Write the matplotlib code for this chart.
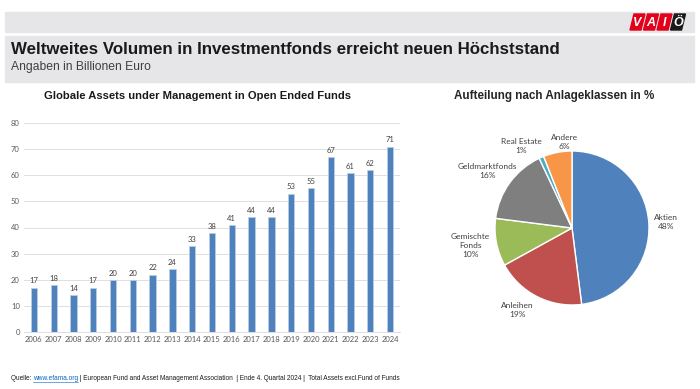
import numpy as np
import matplotlib
matplotlib.use("Agg")
import matplotlib.pyplot as plt
from matplotlib.patches import Rectangle, Polygon

# data
years = ["2006", "2007", "2008", "2009", "2010", "2011", "2012", "2013", "2014", "2015",
         "2016", "2017", "2018", "2019", "2020", "2021", "2022", "2023", "2024"]
volumes = [17, 18, 14, 17, 20, 20, 22, 24, 33, 38, 41, 44, 44, 53, 55, 67, 61, 62, 71]

classes = ["Aktien", "Anleihen", "Gemischte\nFonds", "Geldmarktfonds", "Real Estate", "Andere"]
shares = [48, 19, 10, 16, 1, 6]
pie_colors = ["#4F81BD", "#C0504D", "#9BBB59", "#7F7F7F", "#4BACC6", "#F79646"]
# label positions around the pie, in pie radii
label_pos = [(1.22, 0.08), (-0.71, -1.07), (-1.32, -0.23), (-1.10, 0.74), (-0.66, 1.06), (-0.10, 1.12)]

W, H = 700, 389
fig = plt.figure(figsize=(7, 3.89), dpi=100)
fig.patch.set_facecolor("white")

def fx(px):
    return px / W

def fy(py):
    return 1 - py / H

# header bands
band = "#E6E6E8"
fig.patches.append(Rectangle((fx(5), fy(32)), fx(689), 20 / H, transform=fig.transFigure,
                             color=band, zorder=0))
fig.patches.append(Rectangle((fx(5), fy(82)), fx(689), 46 / H, transform=fig.transFigure,
                             color=band, zorder=0))

# logo
letters = ["V", "A", "I", "Ö"]
for i, ch in enumerate(letters):
    x0 = 630 + i * 13.5
    col = "#E2001A" if i < 3 else "#1A1A1A"
    pts = [(fx(x0), fy(30)), (fx(x0 + 11), fy(30)), (fx(x0 + 15), fy(14)), (fx(x0 + 4), fy(14))]
    fig.patches.append(Polygon(pts, closed=True, transform=fig.transFigure, color=col, zorder=1))
    fig.text(fx(x0 + 7.5), fy(22.5), ch, color="white", fontsize=9, fontweight="bold",
             style="italic", ha="center", va="center", family="Liberation Sans", zorder=2)

fig.text(fx(11), fy(50), "Weltweites Volumen in Investmentfonds erreicht neuen Höchststand",
         fontsize=12.2, fontweight="bold", color="#1A1A1A", family="Liberation Sans",
         va="center", ha="left")
fig.text(fx(11), fy(67), "Angaben in Billionen Euro", fontsize=8.7, color="#404040",
         family="Liberation Sans", va="center", ha="left")

# bar chart
ax = fig.add_axes([fx(24), fy(332), fx(376), (332 - 123) / H])
x = np.arange(len(years))
ax.bar(x, volumes, width=0.32, color="#4F81BD", edgecolor="#B9CDE5", linewidth=0.6, zorder=3)
for xi, v in zip(x, volumes):
    ax.text(xi, v + 1.2, str(v), ha="center", va="bottom", fontsize=5.5, color="#404040",
            family="Lato")
ax.set_xlim(-0.5, len(years) - 0.5)
ax.set_ylim(0, 80)
ax.set_yticks(range(0, 81, 10))
ax.set_xticks(x)
ax.set_xticklabels(years)
ax.tick_params(axis="both", length=0, labelsize=5.5, labelcolor="#595959", pad=3)
for lab in ax.get_xticklabels() + ax.get_yticklabels():
    lab.set_family("Lato")
ax.grid(axis="y", color="#D9D9D9", linewidth=0.6, zorder=0)
for s in ["top", "right", "left"]:
    ax.spines[s].set_visible(False)
ax.spines["bottom"].set_color("#D9D9D9")
ax.spines["bottom"].set_linewidth(0.6)
fig.text(fx(198), fy(96), "Globale Assets under Management in Open Ended Funds",
         fontsize=8.1, fontweight="bold", color="#1A1A1A", family="Liberation Sans",
         ha="center", va="center")

# pie chart
cx, cy, r = 572, 228, 77
pax = fig.add_axes([fx(cx - r), fy(cy + r), fx(2 * r), 2 * r / H])
wedges, texts = pax.pie(shares, colors=pie_colors, startangle=90, counterclock=False,
                        labels=[f"{c}\n{s}%" for c, s in zip(classes, shares)],
                        radius=1,
                        wedgeprops=dict(edgecolor="white", linewidth=1.0),
                        textprops=dict(fontsize=6, color="#404040", family="Lato",
                                       ha="center", va="center", linespacing=1.35))
pax.set_xlim(-1, 1)
pax.set_ylim(-1, 1)
pax.set_aspect("auto")
for t, p in zip(texts, label_pos):
    t.set_position(p)
    t.set_ha("center")
    t.set_va("center")
    t.set_clip_on(False)
fig.text(fx(554), fy(96), "Aufteilung nach Anlageklassen in %", fontsize=8.4,
         fontweight="bold", color="#262626", family="Liberation Sans", ha="center", va="center")

# footer
fs = 4.7
t1 = fig.text(fx(11), fy(379), "Quelle: ", fontsize=fs, family="Liberation Sans",
              color="#1A1A1A", va="center", ha="left")
fig.canvas.draw()
r1 = fig.canvas.get_renderer()
bb = t1.get_window_extent(r1)
t2 = fig.text(bb.x1 / W, fy(379), "www.efama.org", fontsize=fs, family="Liberation Sans",
              color="#0563C1", va="center", ha="left")
bb2 = t2.get_window_extent(r1)
fig.add_artist(plt.Line2D([bb2.x0 / W, bb2.x1 / W], [bb2.y0 / H + 0.001, bb2.y0 / H + 0.001],
                          color="#0563C1", linewidth=0.4, transform=fig.transFigure))
fig.text(bb2.x1 / W, fy(379),
         " | European Fund and Asset Management Association  | Ende 4. Quartal 2024 |  Total Assets excl.Fund of Funds",
         fontsize=fs, family="Liberation Sans", color="#1A1A1A", va="center", ha="left")

fig.savefig("out.png", dpi=100)
